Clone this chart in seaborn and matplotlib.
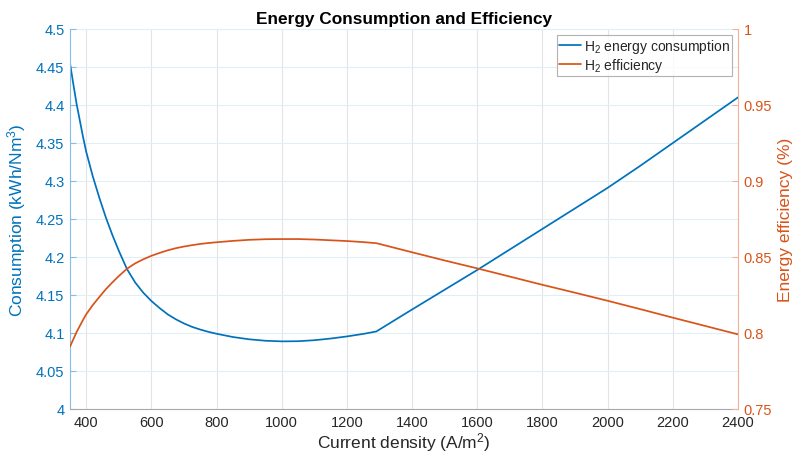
import matplotlib
matplotlib.use("Agg")
import matplotlib.pyplot as plt
from matplotlib.ticker import FuncFormatter, MultipleLocator
import pandas as pd
import seaborn as sns

# Current density (A/m^2)
current_density = [350, 360, 370, 380, 390, 400, 420, 440, 460, 480, 500, 525, 550, 575,
                   600, 625, 650, 675, 700, 725, 750, 775, 800, 850, 900, 950, 1000, 1050,
                   1100, 1150, 1200, 1250, 1290, 1400, 1500, 1600, 1700, 1800, 1900, 2000,
                   2100, 2200, 2300, 2400]
# Specific energy consumption (kWh/Nm^3)
consumption = [4.455, 4.428, 4.402, 4.380, 4.358, 4.338, 4.306, 4.278, 4.252, 4.229,
               4.208, 4.184, 4.1665, 4.153, 4.142, 4.1328, 4.1245, 4.1180, 4.1125, 4.1080,
               4.1045, 4.1015, 4.099, 4.0947, 4.0917, 4.0898, 4.0890, 4.0892, 4.0905,
               4.0927, 4.0955, 4.0988, 4.1020, 4.131, 4.157, 4.183, 4.210, 4.237, 4.264,
               4.291, 4.320, 4.350, 4.380, 4.410]
# Energy efficiency (fraction)
efficiency = [0.7910, 0.7958, 0.8005, 0.8046, 0.8086, 0.8124, 0.8184, 0.8237, 0.8288,
              0.8333, 0.8375, 0.8423, 0.8458, 0.8485, 0.8508, 0.8527, 0.8544, 0.8558,
              0.8569, 0.8578, 0.8586, 0.8592, 0.8597, 0.8606, 0.8613, 0.8617, 0.8618,
              0.8618, 0.8615, 0.8610, 0.8605, 0.8598, 0.8591, 0.8531, 0.8477, 0.8425,
              0.8371, 0.8317, 0.8265, 0.8212, 0.8157, 0.8101, 0.8046, 0.7991]

df = pd.DataFrame({"j": current_density, "cons": consumption, "eff": efficiency})

BLUE = "#0072BD"
ORANGE = "#D95319"

sns.set_style("white")
plt.rcParams["font.family"] = ["Liberation Sans", "DejaVu Sans"]
plt.rcParams["mathtext.fontset"] = "custom"
plt.rcParams["mathtext.rm"] = "Liberation Sans"
plt.rcParams["mathtext.it"] = "Liberation Sans"

fig = plt.figure(figsize=(7.95, 4.56), dpi=100)
ax = fig.add_axes([70 / 795, 1 - 410 / 456, 668 / 795, 380 / 456])
ax2 = ax.twinx()

sns.lineplot(data=df, x="j", y="cons", ax=ax, color=BLUE, linewidth=1.25,
             label="H$_2$ energy consumption", legend=False)
sns.lineplot(data=df, x="j", y="eff", ax=ax2, color=ORANGE, linewidth=1.25,
             label="H$_2$ efficiency", legend=False)

ax.set_xlim(350, 2400)
ax.set_ylim(4.0, 4.5)
ax2.set_ylim(0.75, 1.0)
ax.xaxis.set_major_locator(MultipleLocator(200))
ax.yaxis.set_major_locator(MultipleLocator(0.05))
ax2.yaxis.set_major_locator(MultipleLocator(0.05))
ax.yaxis.set_major_formatter(FuncFormatter(lambda v, p: f"{round(v, 2):g}"))
ax2.yaxis.set_major_formatter(FuncFormatter(lambda v, p: f"{round(v, 2):g}"))

# grid
ax.grid(True, axis="x", color="#E4E4E4", linewidth=0.8)
ax.grid(True, axis="y", color="#E2EDF6", linewidth=0.8)
ax.set_axisbelow(True)

# spines
ax.spines["top"].set_visible(False)
ax2.spines["top"].set_visible(False)
ax.spines["right"].set_visible(False)
ax2.spines["left"].set_visible(False)
ax2.spines["bottom"].set_visible(False)
ax.spines["left"].set_color("#86BDE2")
ax2.spines["right"].set_color("#F2B39A")
ax.spines["bottom"].set_color("#A8A8A8")
for sp in list(ax.spines.values()) + list(ax2.spines.values()):
    sp.set_linewidth(0.8)

ax.tick_params(axis="x", direction="in", length=4, color="#A8A8A8", labelsize=10.5,
               labelcolor="#262626", pad=4)
ax.tick_params(axis="y", direction="in", length=4, color="#86BDE2", labelsize=10.5,
               labelcolor=BLUE, pad=4)
ax2.tick_params(axis="y", direction="in", length=4, color="#F2B39A", labelsize=10.5,
                labelcolor=ORANGE, pad=4)

ax.set_xlabel("Current density (A/m$^2$)", fontsize=12.5, color="#262626", labelpad=1)
ax.set_ylabel("Consumption (kWh/Nm$^3$)", fontsize=12.5, color=BLUE, labelpad=6)
ax2.set_ylabel("Energy efficiency (%)", fontsize=12.5, color=ORANGE, labelpad=4)
ax.set_title("Energy Consumption and Efficiency", fontsize=12.4, fontweight="bold",
             color="black", pad=4)

h1, l1 = ax.get_legend_handles_labels()
h2, l2 = ax2.get_legend_handles_labels()
leg = ax2.legend(h1 + h2, l1 + l2, loc="upper right", fontsize=10, frameon=True,
                 fancybox=False, edgecolor="#A0A0A0", handlelength=1.6, handletextpad=0.2,
                 borderpad=0.15, labelspacing=0.05, borderaxespad=0.45)
leg.get_frame().set_linewidth(0.8)

fig.savefig("out.png", dpi=100)
